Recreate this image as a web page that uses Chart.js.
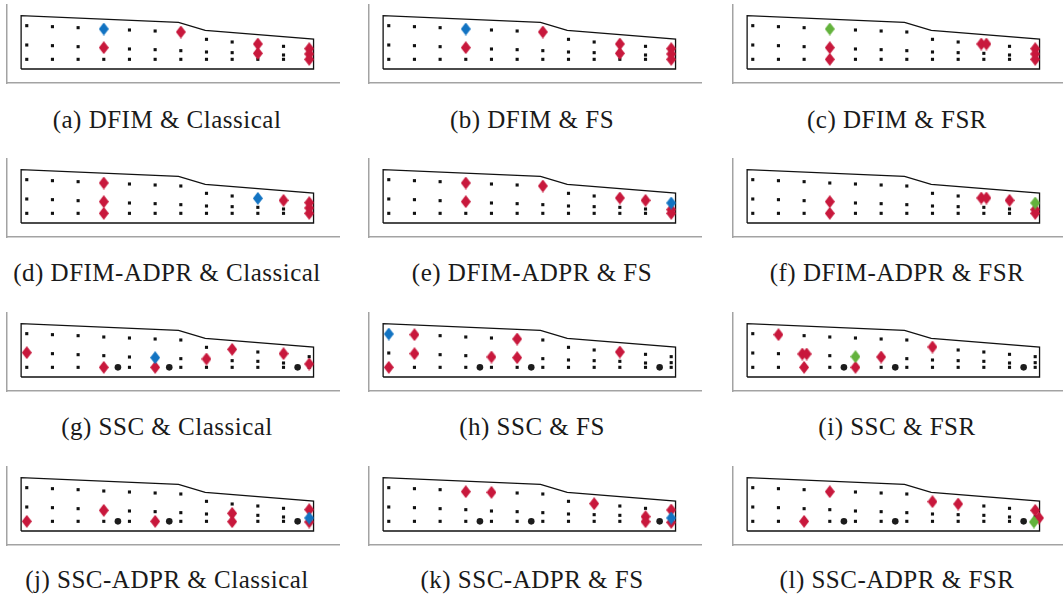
<!DOCTYPE html>
<html>
<head>
<meta charset="utf-8">
<script src="https://cdn.jsdelivr.net/npm/chart.js@4/dist/chart.umd.min.js"></script>
<style>
    html, body { margin: 0; padding: 0; background: #fff; overflow: hidden; }
    body { width: 1063px; height: 594px; position: relative; }
    canvas { position: absolute; }
    .caption {
        position: absolute;
        width: 360px;
        text-align: center;
        font-family: "Liberation Serif", serif;
        font-size: 25px;
        letter-spacing: 0.5px;
        color: #1a1a1a;
        white-space: nowrap;
        line-height: 28px;
    }
</style>
</head>
<body>
<script>
// sub-figure captions
const captions = [
    '(a) DFIM & Classical', '(b) DFIM & FS', '(c) DFIM & FSR',
    '(d) DFIM-ADPR & Classical', '(e) DFIM-ADPR & FS', '(f) DFIM-ADPR & FSR',
    '(g) SSC & Classical', '(h) SSC & FS', '(i) SSC & FSR',
    '(j) SSC-ADPR & Classical', '(k) SSC-ADPR & FS', '(l) SSC-ADPR & FSR'
];

// candidate sensor grid (column index, height)
const gridCols = [0, 1, 2, 3, 4, 5, 6, 7, 8, 9, 10, 11];
const topRow = [13.0, 12.7, 12.4, 12.0, 11.7, 11.4, 11.1, 8.9, 8.1, 7.5, 6.8, 6.1];
const midRow = [7.2, 7.0, 6.7, 6.4, 6.0, 5.8, 5.5, 5.1, 4.9, 4.7, 4.2, 4.3];
const botRow = [2.9, 2.9, 2.9, 2.9, 2.9, 2.9, 2.9, 2.9, 2.9, 2.9, 2.9, 2.9];

// structure outline
const outlineX = [-0.22, -0.22, 5.91, 6.95, 11.17, 11.17, -0.22];
const outlineY = [0, 16.0, 14.0, 11.6, 9.0, 0, 0];

// fixed sensors (SSC panels only)
const circleX = [3.55, 5.55, 10.55];
const circleY = [2.9, 2.9, 2.9];

// selected sensors per panel
const redPoints = [
    [[3, 6.4], [6, 11.1], [9, 7.5], [9, 4.7], [11, 6.1], [11, 4.5], [11, 2.9]],
    [[3, 6.4], [6, 11.1], [9, 7.5], [9, 4.7], [11, 6.1], [11, 4.5], [11, 2.9]],
    [[3, 6.4], [3, 2.9], [8.9, 7.5], [9.1, 7.5], [11, 6.1], [11, 4.5], [11, 2.9]],
    [[3, 12.0], [3, 6.4], [3, 2.9], [10, 6.8], [11, 6.1], [11, 4.5], [11, 2.9]],
    [[3, 12.0], [3, 6.4], [6, 11.1], [9, 7.5], [10, 6.8], [11, 4.0], [11, 2.9]],
    [[3, 6.4], [3, 2.9], [8.9, 7.5], [9.1, 7.5], [10, 6.8], [11, 4.0], [11, 2.9]],
    [[0, 7.3], [3, 2.9], [5, 2.9], [7, 5.4], [8, 8.3], [10, 7.0], [11, 3.9]],
    [[0, 2.9], [1, 12.7], [1, 7.0], [4, 6.0], [5, 11.4], [5, 5.8], [9, 7.5]],
    [[1, 12.7], [1.93, 6.9], [2.1, 6.9], [2, 2.9], [4, 2.9], [5, 6.0], [7, 9.0]],
    [[0, 2.9], [3, 6.2], [5, 2.9], [8, 5.3], [8, 2.8], [11, 6.4], [11, 2.7]],
    [[3, 11.8], [4, 11.6], [8, 8.2], [10, 4.3], [10, 2.8], [11, 6.3], [11, 2.6]],
    [[2, 2.9], [3, 11.8], [7, 8.8], [8, 8.1], [11, 6.2], [11.15, 3.9]]
];
const bluePoints = [
    [[3, 12.0]], [[3, 12.0]], [],
    [[9, 7.4]], [[11, 6.0]], [],
    [[5, 5.8]], [[0, 12.9]], [],
    [[11, 3.9]], [[11, 3.9]], []
];
const greenPoints = [
    [], [], [[3, 12.0]],
    [], [], [[11, 6.0]],
    [], [], [[4, 6.1]],
    [], [], [[10.95, 2.7]]
];

const chartLefts = [7, 369, 733];
const chartTops = [5, 159, 313, 467];
const captionX = [167, 532, 897];
const captionY = [120, 273, 427, 580];

const RED = '#c8183c';
const BLUE = '#1273c2';
const GREEN = '#63b23c';

function diamond(color) {
    const c = document.createElement('canvas');
    c.width = 10;
    c.height = 13;
    const g = c.getContext('2d');
    g.fillStyle = color;
    g.beginPath();
    g.moveTo(5, 0);
    g.lineTo(10, 6.5);
    g.lineTo(5, 13);
    g.lineTo(0, 6.5);
    g.closePath();
    g.fill();
    return c;
}

const redMark = diamond(RED);
const blueMark = diamond(BLUE);
const greenMark = diamond(GREEN);

const toXY = list => list.map(p => ({ x: p[0], y: p[1] }));

const gridPoints = [];
gridCols.forEach((c, i) => {
    gridPoints.push({ x: c, y: topRow[i] });
    gridPoints.push({ x: c, y: midRow[i] });
    gridPoints.push({ x: c, y: botRow[i] });
});
const outline = outlineX.map((x, i) => ({ x: x, y: outlineY[i] }));
const circles = circleX.map((x, i) => ({ x: x, y: circleY[i] }));

// axis line only, takes no room
const hiddenAxis = (min, max, horizontal) => ({
    min: min,
    max: max,
    ticks: { display: false, padding: 0 },
    grid: { display: false, drawTicks: false, tickLength: 0 },
    border: { display: true, color: '#a3a3a3', width: 1.5 },
    afterFit: scale => {
        if (horizontal) scale.height = 0;
        else scale.width = 0;
    }
});

captions.forEach((text, k) => {
    const row = Math.floor(k / 3);
    const col = k % 3;

    const canvas = document.createElement('canvas');
    canvas.width = 336;
    canvas.height = 84;
    canvas.style.left = (chartLefts[col] - 3) + 'px';
    canvas.style.top = (chartTops[row] - 3) + 'px';
    document.body.appendChild(canvas);

    const cap = document.createElement('div');
    cap.className = 'caption';
    cap.textContent = text;
    cap.style.left = (captionX[col] - 180) + 'px';
    cap.style.top = (captionY[row] - 14) + 'px';
    document.body.appendChild(cap);

    const datasets = [
        {
            data: toXY(bluePoints[k]).concat(toXY(greenPoints[k])),
            pointStyle: bluePoints[k].length ? blueMark : greenMark,
            pointRadius: 5
        },
        {
            data: toXY(redPoints[k]),
            pointStyle: redMark,
            pointRadius: 5
        },
        {
            data: row >= 2 ? circles : [],
            pointStyle: 'circle',
            pointRadius: 3.3,
            backgroundColor: '#1c1c1c',
            borderWidth: 0
        },
        {
            data: gridPoints,
            pointStyle: 'rect',
            pointRadius: 2.2,
            backgroundColor: '#111',
            borderWidth: 0
        },
        {
            data: outline,
            showLine: true,
            pointRadius: 0,
            borderColor: '#111',
            borderWidth: 1.3,
            fill: false,
            tension: 0
        }
    ];

    new Chart(canvas.getContext('2d'), {
        type: 'scatter',
        data: { datasets: datasets },
        options: {
            responsive: false,
            animation: false,
            events: [],
            layout: {
                autoPadding: false,
                padding: { left: 3, right: 0, top: 3, bottom: 3 }
            },
            plugins: { legend: { display: false }, tooltip: { enabled: false } },
            scales: {
                x: hiddenAxis(-0.77, 12.2, true),
                y: hiddenAxis(-4.2, 19.2, false)
            }
        }
    });
});
</script>
</body>
</html>
